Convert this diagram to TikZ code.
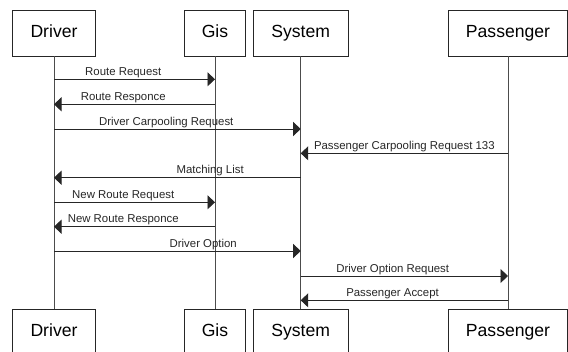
\documentclass[tikz,border=0pt]{standalone}
\usepackage{fontspec}
\setmainfont{Liberation Sans}
\usetikzlibrary{arrows.meta}

\begin{document}
\begin{tikzpicture}[x=1pt,y=-1pt,
  box/.style={draw=black!85,line width=0.8pt,minimum height=46pt,inner sep=0pt,
    text height=12.6pt,text depth=3.7pt,font=\fontsize{17.6}{20}\selectfont},
  life/.style={draw=black!70,line width=0.8pt},
  msg/.style={draw=black!85,line width=0.8pt,-{Triangle[length=7.5pt,width=14pt]}},
  lbl/.style={anchor=base,yshift=3.8pt,inner sep=0pt,text=black!85,
    font=\fontsize{11.4}{13}\selectfont}]
\useasboundingbox(0,0)rectangle(568,352);
\clip(0,0)rectangle(568,352);
% actors, top and bottom
\node[box,minimum width=82.7pt](drv)at(54,33){Driver};
\node[box,minimum width=61pt](gis)at(215,33){Gis};
\node[box,minimum width=95.5pt](sys)at(300.7,33){System};
\node[box,minimum width=119pt](pas)at(508,33){Passenger};
\node[box,minimum width=82.7pt](drv2)at(54,332){Driver};
\node[box,minimum width=61pt](gis2)at(215,332){Gis};
\node[box,minimum width=95.5pt](sys2)at(300.7,332){System};
\node[box,minimum width=119pt](pas2)at(508,332){Passenger};
\draw[life](drv)--(drv2);
\draw[life](gis)--(gis2);
\draw[life](sys)--(sys2);
\draw[life](pas)--(pas2);
% messages
\draw[msg](drv|-0,79.3)--node[lbl,pos=.43](m1){Route Request}(gis|-0,79.3);
\draw[msg](gis|-0,104.3)--node[lbl,pos=.57](m2){Route Responce}(drv|-0,104.3);
\draw[msg](drv|-0,129)--node[lbl,pos=.455](m3){Driver Carpooling Request}(sys|-0,129);
\draw[msg](pas|-0,153.3)--node[lbl,pos=.5](m4){Passenger Carpooling Request 133}(sys|-0,153.3);
\draw[msg](sys|-0,177.7)--node[lbl,pos=.367](m5){Matching List}(drv|-0,177.7);
\draw[msg](drv|-0,202.3)--node[lbl,pos=.43](m6){New Route Request}(gis|-0,202.3);
\draw[msg](gis|-0,226.7)--node[lbl,pos=.57](m7){New Route Responce}(drv|-0,226.7);
\draw[msg](drv|-0,251)--node[lbl,pos=.605](m8){Driver Option}(sys|-0,251);
\draw[msg](sys|-0,276)--node[lbl,pos=.444](m9){Driver Option Request}(pas|-0,276);
\draw[msg](pas|-0,300.3)--node[lbl,pos=.557](m10){Passenger Accept}(sys|-0,300.3);
\end{tikzpicture}
\end{document}
